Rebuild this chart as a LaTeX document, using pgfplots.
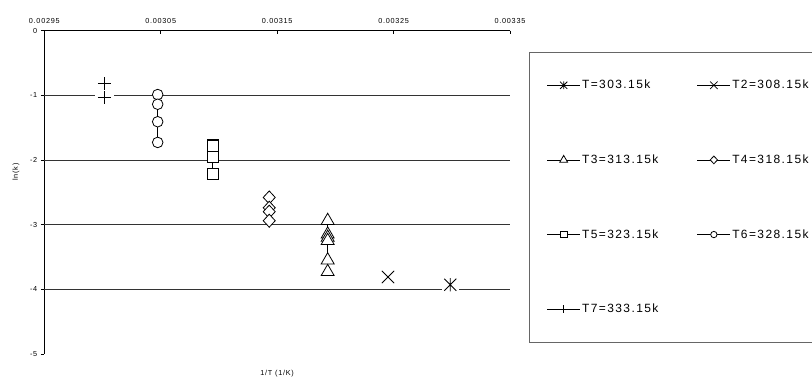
\documentclass[border=0pt]{standalone}
\usepackage{fontspec}
\setmainfont{Liberation Sans}
\newfontfamily\lsbig[LetterSpace=12]{Liberation Sans}
\newfontfamily\lssmall[LetterSpace=10]{Liberation Sans}
\usepackage{pgfplots}
\pgfplotsset{compat=1.18}

% excel style star: a cross with a vertical bar
\pgfdeclareplotmark{xstar}{%
  \pgfpathmoveto{\pgfqpoint{-\pgfplotmarksize}{-\pgfplotmarksize}}%
  \pgfpathlineto{\pgfqpoint{\pgfplotmarksize}{\pgfplotmarksize}}%
  \pgfpathmoveto{\pgfqpoint{-\pgfplotmarksize}{\pgfplotmarksize}}%
  \pgfpathlineto{\pgfqpoint{\pgfplotmarksize}{-\pgfplotmarksize}}%
  \pgfpathmoveto{\pgfqpoint{0pt}{-1.1\pgfplotmarksize}}%
  \pgfpathlineto{\pgfqpoint{0pt}{1.1\pgfplotmarksize}}%
  \pgfusepathqstroke}
\pgfdeclareplotmark{xcross}{%
  \pgfpathmoveto{\pgfqpoint{-\pgfplotmarksize}{-\pgfplotmarksize}}%
  \pgfpathlineto{\pgfqpoint{\pgfplotmarksize}{\pgfplotmarksize}}%
  \pgfpathmoveto{\pgfqpoint{-\pgfplotmarksize}{\pgfplotmarksize}}%
  \pgfpathlineto{\pgfqpoint{\pgfplotmarksize}{-\pgfplotmarksize}}%
  \pgfusepathqstroke}

\begin{document}
\begin{tikzpicture}
\path[use as bounding box] (0,0) rectangle (812bp,381bp);
\begin{axis}[at={(44.3bp,27bp)},anchor=south west,scale only axis,
  width=465.7bp,height=323.5bp,
  xmin=0.00295,xmax=0.00335,ymin=-5,ymax=0,
  axis x line*=top,axis y line*=left,
  axis line style={black,line width=0.9bp},
  scaled x ticks=false,
  xtick={0.00295,0.00305,0.00315,0.00325,0.00335},
  xticklabels={0.00295,0.00305,0.00315,0.00325,0.00335},
  ytick={-5,0},yticklabels={-5,0},
  extra y ticks={-4,-3,-2,-1},extra y tick labels={-4,-3,-2,-1},
  extra y tick style={grid=major},
  major grid style={black!80,line width=0.8bp},
  tick align=outside,major tick length=3.5bp,
  tick style={black,line width=0.8bp},
  xtick style={yshift=-3.5bp},
  tick label style={font=\lssmall\fontsize{7.3}{8}\selectfont},
  xlabel={1/T (1/K)},ylabel={ln(k)},
  every axis x label/.style={at={(rel axis cs:0.5,0)},yshift=-20bp,anchor=center,font=\lssmall\fontsize{7.3}{8}\selectfont},
  every axis y label/.style={at={(rel axis cs:0,0.5626)},xshift=-28.3bp,rotate=90,anchor=center,font=\lssmall\fontsize{7.3}{8}\selectfont},
  legend columns=2,legend cell align=left,
  legend style={at={(1.0414,0.9345)},anchor=north west,draw=black!60,line width=1bp,
    inner xsep=17bp,inner ysep=26bp,row sep=60.5bp,
    font=\lsbig\fontsize{12}{14}\selectfont,
    nodes={inner xsep=1.5bp},
    /tikz/every even column/.append style={column sep=37bp}},
  legend image code/.code={\draw[mark repeat=2,mark phase=2,every mark/.append style={scale=0.6}]
    plot coordinates {(0bp,0bp) (16.5bp,0bp) (33bp,0bp)};},
  every axis plot/.append style={black,line width=0.8bp},
  clip=false]

% white backgrounds behind the open markers
\addplot[only marks,mark=square*,mark size=8.3bp,draw=white,fill=white,forget plot]
  coordinates {(0.0032987,-3.93)};
\addplot[mark=xstar,mark size=6bp] coordinates {(0.0032987,-3.93)};
\addlegendentry{T=303.15k}
\addplot[mark=xcross,mark size=6.2bp] coordinates {(0.0032452,-3.81)};
\addlegendentry{T2=308.15k}
\addplot[mark=triangle*,mark size=7.5bp,mark options={fill=white}] coordinates {
  (0.0031934,-2.94) (0.0031934,-3.15) (0.0031934,-3.20) (0.0031934,-3.25)
  (0.0031934,-3.55) (0.0031934,-3.73)};
\addlegendentry{T3=313.15k}
\addplot[mark=diamond*,mark size=6.5bp,mark options={fill=white,xscale=1.23}] coordinates {
  (0.0031432,-2.58) (0.0031432,-2.74) (0.0031432,-2.80) (0.0031432,-2.94)};
\addlegendentry{T4=318.15k}
\addplot[mark=square*,mark size=5.5bp,mark options={fill=white}] coordinates {
  (0.0030945,-1.77) (0.0030945,-1.79) (0.0030945,-1.95) (0.0030945,-2.21)};
\addlegendentry{T5=323.15k}
\addplot[mark=*,mark size=5.3bp,mark options={fill=white}] coordinates {
  (0.0030474,-0.99) (0.0030474,-1.14) (0.0030474,-1.41) (0.0030474,-1.73)};
\addlegendentry{T6=328.15k}
\addplot[only marks,mark=square*,mark size=9bp,draw=white,fill=white,forget plot]
  coordinates {(0.0030017,-0.82) (0.0030017,-1.04)};
\addplot[mark=+,mark size=6.5bp] coordinates {(0.0030017,-0.82) (0.0030017,-1.04)};
\addlegendentry{T7=333.15k}
\end{axis}
\end{tikzpicture}
\end{document}
